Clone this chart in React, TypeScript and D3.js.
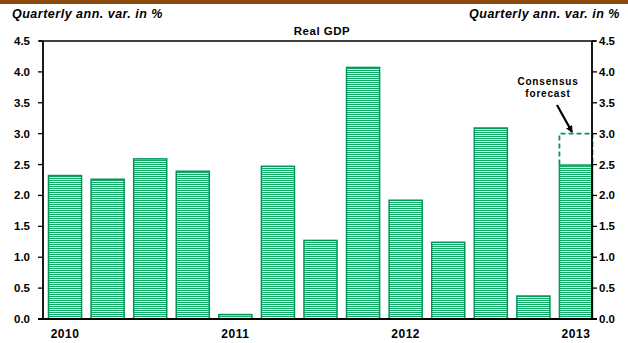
import React from "react";
import * as d3 from "d3";

const quarters = ["2010Q1","2010Q2","2010Q3","2010Q4","2011Q1","2011Q2","2011Q3","2011Q4","2012Q1","2012Q2","2012Q3","2012Q4","2013Q1"];
const gdp = [2.33, 2.27, 2.6, 2.4, 0.08, 2.48, 1.28, 4.08, 1.93, 1.25, 3.1, 0.38, 2.5];
const forecastQuarter = "2013Q1";
const forecastValue = 3.0;
const yearLabels = [
  { q: "2010Q1", label: "2010" },
  { q: "2011Q1", label: "2011" },
  { q: "2012Q1", label: "2012" },
  { q: "2013Q1", label: "2013" },
];
const yTicks = [0, 0.5, 1, 1.5, 2, 2.5, 3, 3.5, 4, 4.5];

const W = 628, H = 343;
const left = 43, right = 592, top = 41, bottom = 319;
const GREEN = "#00955a";
const STRIPE = "#12a866";
const FONT = "'Liberation Sans', Arial, sans-serif";

export default function App() {
  const x = d3.scaleBand<string>().domain(quarters).range([48, 593]).paddingInner(0.2).paddingOuter(0);
  const y = d3.scaleLinear().domain([0, 4.5]).range([bottom, top]);
  const bw = x.bandwidth();
  const fx = x(forecastQuarter)!;
  const fLast = gdp[quarters.indexOf(forecastQuarter)];

  return (
    <svg width={W} height={H} style={{ position: "fixed", left: 0, top: 0, background: "#fff" }} fontFamily={FONT}>
      <defs>
        <pattern id="stripes" patternUnits="userSpaceOnUse" width={8} height={2}>
          <rect width={8} height={2} fill="#fff" />
          <rect width={8} height={1.15} fill={STRIPE} />
        </pattern>
      </defs>
      <rect x={0} y={0} width={W} height={4} fill="#8a4a0c" />
      <text x={12} y={18} fontSize={12.5} letterSpacing={0.5} fontWeight="bold" fontStyle="italic" fill="#000">Quarterly ann. var. in %</text>
      <text x={620} y={18} fontSize={12.5} letterSpacing={0.5} fontWeight="bold" fontStyle="italic" fill="#000" textAnchor="end">Quarterly ann. var. in %</text>
      <text x={322} y={35} fontSize={11.5} letterSpacing={0.5} fontWeight="bold" fill="#000" textAnchor="middle">Real GDP</text>

      {quarters.map((q, i) => {
        const v = gdp[i];
        const y0 = y(v);
        return (
          <rect key={q} x={x(q)! + 0.5} y={y0 + 0.5} width={bw - 1} height={Math.max(0, bottom - y0 - 0.5)}
            fill="url(#stripes)" stroke={GREEN} strokeWidth={1.5} />
        );
      })}

      {/* forecast dashed box */}
      <path d={`M${fx + 0.5},${y(fLast)} L${fx + 0.5},${y(forecastValue)} L${fx + bw - 0.5},${y(forecastValue)} L${fx + bw - 0.5},${y(fLast)}`}
        fill="none" stroke={GREEN} strokeWidth={1.8} strokeDasharray="5,3" />

      {/* axes */}
      <line x1={left - 4} x2={right + 4} y1={top} y2={top} stroke="#000" strokeWidth={1.3} />
      <line x1={left} x2={left} y1={top} y2={bottom} stroke="#000" strokeWidth={1.8} />
      <line x1={right} x2={right} y1={top} y2={bottom} stroke="#000" strokeWidth={1.8} />
      <line x1={left - 5} x2={right + 5} y1={bottom} y2={bottom} stroke="#000" strokeWidth={2} />
      {yTicks.map((t) => (
        <g key={t}>
          <line x1={left - 5} x2={left} y1={y(t)} y2={y(t)} stroke="#000" strokeWidth={1.3} />
          <line x1={right} x2={right + 5} y1={y(t)} y2={y(t)} stroke="#000" strokeWidth={1.3} />
          <text x={30} y={y(t) + 4} fontSize={11.5} fontWeight="bold" textAnchor="end">{t.toFixed(1)}</text>
          <text x={599} y={y(t) + 4} fontSize={11.5} fontWeight="bold">{t.toFixed(1)}</text>
        </g>
      ))}
      {yearLabels.map((d) => (
        <text key={d.label} x={x(d.q)! + bw / 2} y={338} fontSize={12} letterSpacing={0.5} fontWeight="bold" textAnchor="middle">{d.label}</text>
      ))}

      {/* annotation */}
      <text x={548} y={85} fontSize={10} letterSpacing={0.8} fontWeight="bold" textAnchor="middle">Consensus</text>
      <text x={548} y={97} fontSize={10} letterSpacing={0.8} fontWeight="bold" textAnchor="middle">forecast</text>
      <defs>
        <marker id="arr" markerWidth={7} markerHeight={7} refX={6} refY={3.5} orient="auto" markerUnits="userSpaceOnUse">
          <path d="M0,0 L7,3.5 L0,7 Z" fill="#000" />
        </marker>
      </defs>
      <line x1={557} y1={105} x2={572} y2={132} stroke="#000" strokeWidth={2.2} markerEnd="url(#arr)" />
    </svg>
  );
}
